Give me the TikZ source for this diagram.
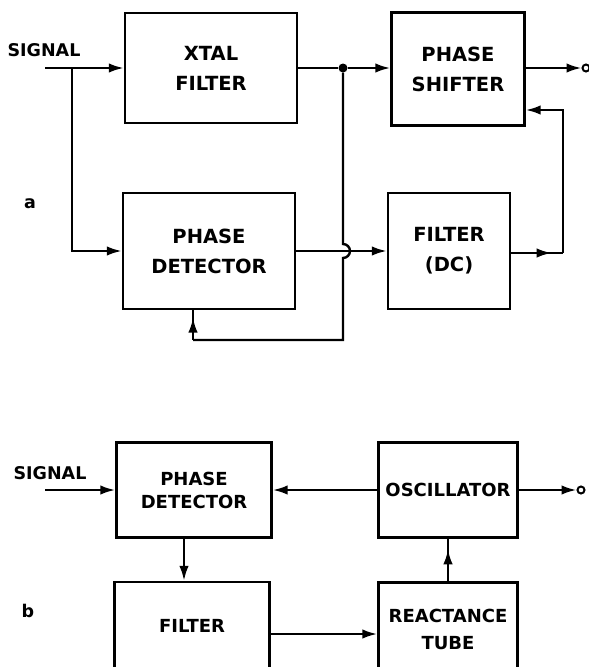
\documentclass[tikz,border=0pt]{standalone}
\usepackage{fontspec}
\setmainfont{DejaVu Sans}
\usetikzlibrary{arrows.meta, calc, decorations.markings}

\tikzset{
  blk/.style={draw, line width=2.4pt, align=center, inner sep=0pt, font=\bfseries\fontsize{19.5}{30}\selectfont},
  blkb/.style={blk, font=\bfseries\fontsize{18}{23}\selectfont},
  wire/.style={line width=2.4pt},
  arr/.style={wire, -{Latex[length=15pt,width=9.5pt]}},
  midarr/.style={wire, postaction={decorate}, decoration={markings, mark=at position #1 with {\arrow{Latex[length=15pt,width=9.5pt]}}}},
  term/.style={circle, draw, line width=2pt, fill=white, inner sep=0pt, minimum size=7pt},
  lbl/.style={font=\bfseries\fontsize{17.5}{19}\selectfont},
}

\begin{document}
\begin{tikzpicture}[x=1pt, y=-1pt]
\clip (0,0) rectangle (589,667);
% a
\node[blk, minimum width=172pt, minimum height=110pt] (xtal) at (211,68) {XTAL\\FILTER};
\node[blk, minimum width=133pt, minimum height=113pt] (shift) at (458,69) {PHASE\\SHIFTER};
\node[blk, minimum width=172pt, minimum height=116pt] (det) at (209,251) {PHASE\\DETECTOR};
\node[blk, minimum width=122pt, minimum height=116pt] (fdc) at (449,251) {FILTER\\(DC)};
\node[lbl] (siga) at (44,50) {SIGNAL};
\node[lbl] (la) at (30,204) {a};
\coordinate (ina) at (45,68);
\coordinate (bra) at (72,68);
\node[circle, fill, inner sep=0pt, minimum size=9pt] (jn) at (343,68) {};
\node[term] (outa) at (586,68) {};
\coordinate (fbr) at (563,253);
\coordinate (fbl) at (193,340);
\draw[arr] (ina) -- (xtal.west);
\draw[arr] (bra) |- (det.west);
\draw[wire] (xtal.east) -- (jn);
\draw[arr] (jn) -- (jn -| shift.west);
\draw[arr] (shift.east |- jn) -- (outa);
\draw[arr] (det.east) -- (fdc.west);
\draw[midarr=0.78] (fdc.east |- fbr) -- (fbr);
\draw[arr] (fbr) |- ($(shift.east)+(0,41)$);
\draw[wire] (jn) -- ($(jn |- det.east)+(0,-7)$) arc[start angle=90, end angle=-90, radius=7pt] |- (fbl);
\draw[midarr=0.75] (fbl) -- (fbl |- det.south);
% b
\node[blkb, minimum width=155pt, minimum height=95pt] (detb) at (194,490) {PHASE\\DETECTOR};
\node[blkb, minimum width=139pt, minimum height=95pt] (osc) at (448,490) {OSCILLATOR};
\node[blkb, minimum width=155pt, minimum height=88pt] (filt) at (192,626) {FILTER};
\node[blkb, font=\bfseries\fontsize{18}{27}\selectfont, minimum width=139pt, minimum height=93pt] (tube) at (448,629) {REACTANCE\\TUBE};
\node[lbl] (sigb) at (50,473) {SIGNAL};
\node[lbl] (lb) at (28,611) {b};
\coordinate (inb) at (45,490);
\node[term] (outb) at (581,490) {};
\coordinate (dn) at ($(detb.south)+(-10,0)$);
\coordinate (fo) at ($(filt.east)+(0,8)$);
\draw[arr] (inb) -- (detb.west);
\draw[arr] (osc.west) -- (detb.east);
\draw[arr] (osc.east) -- (outb);
\draw[arr] (dn) -- (dn |- filt.north);
\draw[arr] (fo) -- (fo -| tube.west);
\draw[midarr=0.75] (tube.north) -- (osc.south);
\end{tikzpicture}
\end{document}
